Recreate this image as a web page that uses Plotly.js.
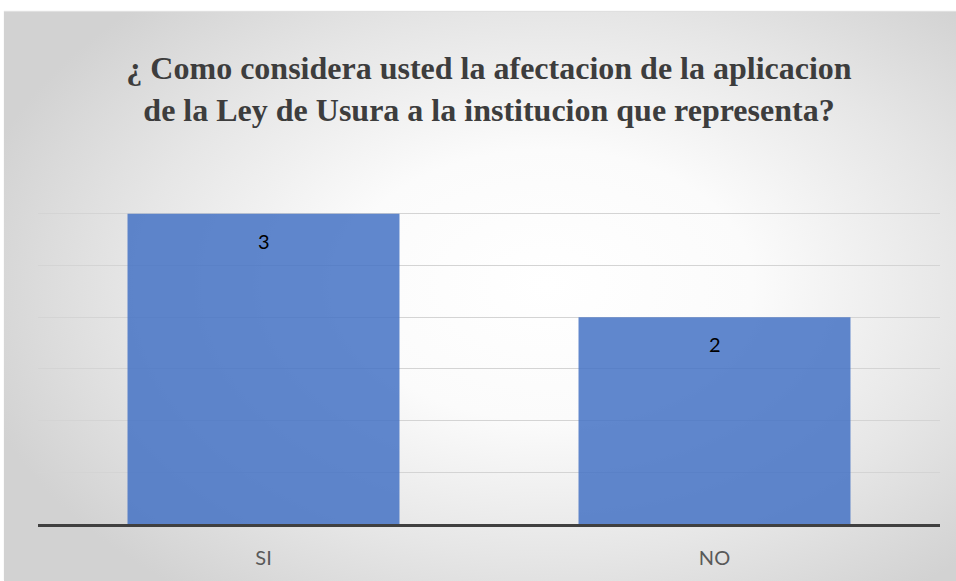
<!DOCTYPE html>
<html>
<head>
<meta charset="utf-8">
<script src="https://cdn.plot.ly/plotly-3.0.1.min.js"></script>
<style>
html,body{margin:0;padding:0;background:#ffffff;width:956px;height:581px;overflow:hidden;}
#chart{position:absolute;left:4px;top:12px;width:952px;height:569px;
background:radial-gradient(ellipse 62% 68% at 57% 48%, #ffffff 0%, #fbfbfb 35%, #e6e6e6 70%, #d2d2d2 100%);
box-shadow:0 -1px 1px rgba(0,0,0,0.12);}
</style>
</head>
<body>
<div id="chart"></div>
<script>
const categories = ["SI", "NO"];
const values = [3, 2];
const labels = ["3", "2"];
const titleLine1 = "¿ Como considera usted la afectacion de la aplicacion";
const titleLine2 = "de la Ley de Usura a la institucion que representa?";

const serif = "Liberation Serif";
const sans = "Lato";

const trace = {
  type: "bar",
  x: categories,
  y: values,
  marker: {color: "rgba(68,114,196,0.85)", line: {width: 0}},
  hoverinfo: "x+y"
};

const annotations = categories.map((c, i) => ({
  x: c, y: values[i], xref: "x", yref: "y",
  text: labels[i], showarrow: false,
  yanchor: "middle", yshift: -27,
  font: {family: sans, size: 20, color: "#000000"}
}));

const layout = {
  width: 952, height: 569,
  paper_bgcolor: "rgba(0,0,0,0)",
  plot_bgcolor: "rgba(0,0,0,0)",
  margin: {l: 34, r: 16, t: 150, b: 57},
  showlegend: false,
  bargap: 0.397,
  title: {
    text: "<b>" + titleLine1 + "<br>" + titleLine2 + "</b>",
    font: {family: serif, size: 32, color: "#3d3d3d"},
    x: 0.5, xref: "paper", xanchor: "center",
    y: 0.882, yref: "container", yanchor: "middle"
  },
  xaxis: {
    type: "category",
    showline: true, linecolor: "#404040", linewidth: 3,
    ticks: "", ticklabelstandoff: 14,
    tickfont: {family: sans, size: 20, color: "#595959"},
    showgrid: false, fixedrange: true
  },
  yaxis: {
    range: [0, 3.5], dtick: 0.5, tick0: 0,
    showticklabels: false, ticks: "",
    showgrid: true, gridcolor: "#d4d4d4", gridwidth: 1,
    zeroline: false, showline: false, fixedrange: true
  },
  annotations: annotations
};

Plotly.newPlot("chart", [trace], layout, {displayModeBar: false, staticPlot: true});
</script>
</body>
</html>
